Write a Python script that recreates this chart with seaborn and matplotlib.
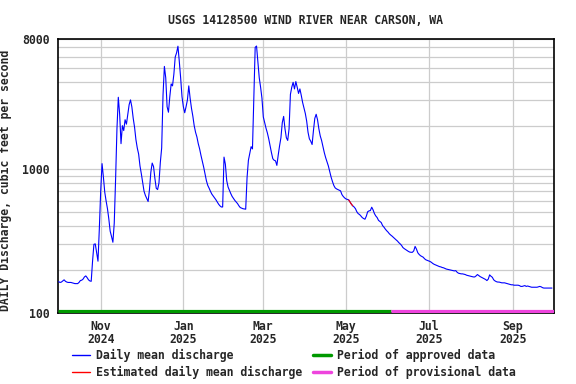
import pandas as pd
import matplotlib
matplotlib.use("Agg")
import matplotlib.pyplot as plt
from matplotlib.lines import Line2D
from matplotlib.ticker import NullFormatter
import seaborn as sns

# daily mean discharge (cfs), water year 2025
oct_q = [165, 163, 164, 167, 170, 166, 164, 163, 163, 163,
         162, 161, 160, 160, 160, 163, 168, 169, 172, 178,
         181, 176, 170, 167, 166, 229, 300, 302, 264, 229, 385]
nov_q = [700, 1090, 880, 690, 600, 530, 450, 370, 340, 310,
         420, 850, 1900, 3150, 2400, 1500, 2000, 1850, 2200, 2050,
         2400, 2800, 3020, 2700, 2250, 1950, 1600, 1400, 1270, 1050]
dec_q = [925, 800, 700, 655, 625, 595, 720, 950, 1100, 1040,
         860, 735, 720, 800, 1110, 1400, 3270, 5160, 4300, 2710,
         2480, 3180, 3900, 3780, 4560, 6000, 6410, 7130, 5600, 4300, 3180]
jan_q = [2710, 2460, 2710, 3020, 3780, 3100, 2640, 2330, 2000, 1800,
         1670, 1500, 1380, 1243, 1130, 1030, 925, 830, 770, 736,
         700, 670, 650, 630, 612, 590, 570, 555, 545, 545, 1210]
feb_q = [1080, 830, 750, 710, 675, 645, 625, 605, 590, 575,
         555, 540, 535, 530, 528, 526, 870, 1150, 1280, 1430,
         1380, 3150, 7000, 7150, 5600, 4300, 3700, 3100]
mar_q = [2300, 2100, 1920, 1780, 1620, 1450, 1300, 1180, 1150, 1140,
         1060, 1250, 1450, 1650, 2100, 2320, 1900, 1650, 1580, 1900,
         3300, 3700, 4000, 3600, 4050, 3700, 3350, 3600, 3250, 2900, 2650]
apr_q = [2430, 2150, 1800, 1620, 1560, 1480, 1850, 2250, 2400, 2200,
         1900, 1700, 1580, 1430, 1300, 1200, 1120, 1050, 960, 880,
         820, 770, 740, 728, 720, 712, 705, 665, 645, 630]
may_q = [620, 615, 610, 590, 570, 555, 545, 530, 505, 490,
         483, 472, 460, 453, 448, 470, 505, 512, 515, 543,
         520, 490, 472, 460, 440, 432, 425, 405, 395, 383, 373]
jun_q = [365, 355, 348, 342, 335, 328, 322, 316, 308, 302,
         295, 285, 280, 276, 272, 268, 265, 264, 264, 270,
         290, 278, 262, 255, 250, 247, 244, 238, 234, 232]
jul_q = [230, 228, 225, 221, 218, 216, 214, 212, 210, 209,
         207, 206, 204, 202, 201, 200, 199, 198, 197, 196,
         197, 192, 189, 188, 187, 187, 186, 185, 183, 182, 181]
aug_q = [180, 179, 178, 178, 181, 185, 182, 179, 177, 175,
         173, 171, 168, 172, 184, 180, 177, 170, 167, 165,
         164, 164, 163, 162, 162, 162, 161, 160, 159, 158, 157]
sep_q = [157, 156, 156, 156, 156, 155, 153, 153, 154, 155,
         153, 154, 153, 152, 151, 151, 151, 151, 151, 152,
         153, 152, 150, 149, 149, 149, 149, 149, 149, 149]

estimated_start = "2025-05-03"
estimated_end = "2025-05-06"
approved_end = "2025-06-03"

y_major = [100, 1000, 8000]
y_major_labels = ["100", "1000", "8000"]
y_minor = [200, 300, 400, 500, 600, 700, 800, 900,
           2000, 3000, 4000, 5000, 6000, 7000]
month_ticks = ["2024-11-01", "2025-01-01", "2025-03-01",
               "2025-05-01", "2025-07-01", "2025-09-01"]
month_labels = ["Nov\n2024", "Jan\n2025", "Mar\n2025",
                "May\n2025", "Jul\n2025", "Sep\n2025"]
legend_labels = ["Daily mean discharge", "Estimated daily mean discharge",
                 "Period of approved data", "Period of provisional data"]

discharge = (oct_q + nov_q + dec_q + jan_q + feb_q + mar_q +
             apr_q + may_q + jun_q + jul_q + aug_q + sep_q)
df = pd.DataFrame({"date": pd.date_range("2024-10-01", periods=len(discharge), freq="D"),
                   "q": discharge})
est = df[(df.date >= estimated_start) & (df.date <= estimated_end)]

x_lo = pd.Timestamp("2024-09-30 12:00")
x_hi = pd.Timestamp("2025-10-01 12:00")
x_split = pd.Timestamp(approved_end)

sns.set_style("white")
plt.rcParams["font.family"] = ["DejaVu Sans Mono"]
plt.rcParams["font.weight"] = "bold"
fs = 8.3

fig = plt.figure(figsize=(5.76, 3.84), dpi=100)
ax = fig.add_axes([58 / 576, 1 - 313 / 384, 496 / 576, 274 / 384])

sns.lineplot(data=df, x="date", y="q", color="#0000ff", lw=0.8, ax=ax, zorder=3)
sns.lineplot(data=est, x="date", y="q", color="#ff0000", lw=0.8, ax=ax, zorder=4)

ax.set_yscale("log")
ax.set_ylim(100, 8000)
ax.set_xlim(x_lo, x_hi)
ax.set_yticks(y_major)
ax.set_yticklabels(y_major_labels, fontsize=fs, fontweight="bold")
ax.set_yticks(y_minor, minor=True)
ax.yaxis.set_minor_formatter(NullFormatter())
ax.set_xticks(pd.to_datetime(month_ticks))
ax.set_xticklabels(month_labels, fontsize=fs, fontweight="bold", linespacing=1.0)
ax.tick_params(axis="both", which="both", length=0)
ax.tick_params(axis="x", pad=5)
ax.tick_params(axis="y", pad=6)
ax.grid(True, axis="y", which="both", color="#cccccc", lw=0.9)
ax.grid(True, axis="x", which="major", color="#cccccc", lw=0.9)
for s in ax.spines.values():
    s.set_color("black")
    s.set_linewidth(1.2)

ax.set_xlabel("")
ax.set_ylabel("DAILY Discharge, cubic feet per second", fontsize=fs, fontweight="bold")
ax.yaxis.set_label_coords(-0.093, 0.485)

# data-status bars along the bottom of the plot
trans = ax.get_xaxis_transform()
ax.plot([x_lo, x_split], [0.009, 0.009], transform=trans, color="#009900",
        lw=2.3, solid_capstyle="butt", zorder=5)
ax.plot([x_split, x_hi], [0.009, 0.009], transform=trans, color="#ee44dd",
        lw=2.3, solid_capstyle="butt", zorder=5)

ax.set_title("USGS 14128500 WIND RIVER NEAR CARSON, WA",
             fontsize=fs, fontweight="bold", pad=10.8)

handles = [Line2D([], [], color="#0000ff", lw=1),
           Line2D([], [], color="#ff0000", lw=1),
           Line2D([], [], color="#009900", lw=2.5),
           Line2D([], [], color="#ee44dd", lw=2.5)]
fig.legend(handles, legend_labels, ncol=2, loc="upper left",
           bbox_to_anchor=(72 / 576, 1 - 349 / 384), frameon=False,
           prop={"size": fs, "weight": "bold"}, handlelength=1.58,
           handletextpad=0.49, columnspacing=0.95, labelspacing=0.3,
           borderpad=0, borderaxespad=0)

fig.savefig("out.png", dpi=100)
